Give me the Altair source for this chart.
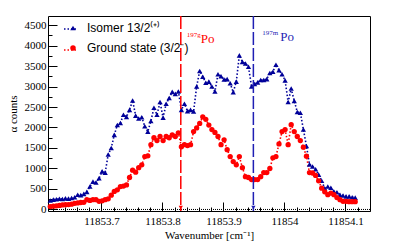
import altair as alt
import pandas as pd

# ---------------- data ----------------
wavenumber = [
    11853.616, 11853.621, 11853.626, 11853.631, 11853.636, 11853.641, 11853.646, 11853.651, 11853.656, 11853.661,
    11853.666, 11853.671, 11853.676, 11853.681, 11853.686, 11853.691, 11853.696, 11853.701, 11853.706, 11853.711,
    11853.716, 11853.721, 11853.726, 11853.731, 11853.736, 11853.741, 11853.746, 11853.751, 11853.756, 11853.761,
    11853.766, 11853.771, 11853.776, 11853.781, 11853.786, 11853.791, 11853.796, 11853.801, 11853.806, 11853.811,
    11853.816, 11853.821, 11853.826, 11853.831, 11853.836, 11853.841, 11853.846, 11853.851, 11853.856, 11853.861,
    11853.866, 11853.871, 11853.876, 11853.881, 11853.886, 11853.891, 11853.896, 11853.901, 11853.906, 11853.911,
    11853.916, 11853.921, 11853.926, 11853.931, 11853.936, 11853.941, 11853.946, 11853.951, 11853.956, 11853.961,
    11853.966, 11853.971, 11853.976, 11853.981, 11853.986, 11853.991, 11853.996, 11854.001, 11854.006, 11854.011,
    11854.016, 11854.021, 11854.026, 11854.031, 11854.036, 11854.041, 11854.046, 11854.051, 11854.056, 11854.061,
    11854.066, 11854.071, 11854.076, 11854.081, 11854.086, 11854.091, 11854.096, 11854.101, 11854.106, 11854.111,
    11854.116,
]
isomer_counts = [
    220, 240, 250, 260, 255, 270, 265, 280, 300, 360,
    350, 380, 430, 560, 680, 660, 760, 930, 900, 1340,
    1500, 1820, 2060, 2110, 2310, 2260, 2430, 2660, 2290, 2220,
    2250, 2030, 1900, 2160, 2480, 2310, 2620, 2240, 2580, 2720,
    2870, 2820, 2880, 2430, 2580, 2400, 2430, 2390, 3000, 3380,
    3240, 3090, 3120, 3000, 2880, 3300, 3250, 3170, 3180, 3080,
    2860, 3120, 3760, 3600, 3560, 3480, 3000, 3060, 3100, 3160,
    3160, 3180, 3330, 3360, 3530, 3400, 3300, 3150, 2620, 2950,
    2650, 2380, 2360, 1950, 1550, 1100, 1050, 980, 850, 700,
    520, 560, 530, 440, 420, 360, 340, 320, 320, 300,
    290,
]
ground_counts = [
    70, 80, 90, 100, 110, 115, 120, 130, 150, 160,
    170, 175, 240, 220, 240, 240, 200, 210, 240, 260,
    350, 440, 480, 560, 570, 600, 780, 960, 910, 1020,
    1090, 1290, 1310, 1580, 1750, 1680, 1780, 1680, 1780, 1750,
    1820, 1780, 1870, 1530, 1580, 1560, 1580, 1900, 1990, 2100,
    2260, 2200, 2060, 1950, 1880, 1780, 1580, 1700, 1460, 1290,
    1170, 1090, 1290, 1020, 800, 780, 730, 730, 730, 800,
    900, 900, 1000, 1260, 1290, 1600, 1900, 1950, 1580, 2070,
    1900, 1780, 1680, 1520, 1300, 900, 890, 830, 700, 520,
    430, 360, 400, 360, 290, 240, 200, 200, 190, 190,
    190,
]
series_names = ["Isomer 13/2\u207d\u207a\u207e", "Ground state (3/2\u207b)"]
series_colors = ["#000099", "#ff0000"]
series_shapes = ["triangle-up", "circle"]

marker_positions = [11853.830, 11853.949]
marker_colors = ["#ff0000", "#1f1fb4"]
marker_sup = ["197g", "197m"]
marker_main = ["Po", "Po"]

x_ticks = [11853.7, 11853.8, 11853.9, 11854.0, 11854.1]
x_minor = [11853.62, 11853.64, 11853.66, 11853.68, 11853.70, 11853.72, 11853.74, 11853.76,
           11853.78, 11853.80, 11853.82, 11853.84, 11853.86, 11853.88, 11853.90, 11853.92,
           11853.94, 11853.96, 11853.98, 11854.00, 11854.02, 11854.04, 11854.06, 11854.08,
           11854.10, 11854.12, 11854.14]
y_ticks = [0, 500, 1000, 1500, 2000, 2500, 3000, 3500, 4000, 4500]
y_minor = [0, 250, 500, 750, 1000, 1250, 1500, 1750, 2000, 2250, 2500, 2750, 3000, 3250,
           3500, 3750, 4000, 4250, 4500]

X_DOM = [11853.6123, 11854.1402]
Y_DOM = [-37, 4720]
W, H = 322, 195

n = len(wavenumber)
df = pd.DataFrame({
    "wn": wavenumber + wavenumber,
    "counts": isomer_counts + ground_counts,
    "series": [series_names[0]] * n + [series_names[1]] * n,
})
df_mark = pd.DataFrame({
    "pos": marker_positions,
    "top": [Y_DOM[1]] * 2,
    "bottom": [Y_DOM[0]] * 2,
    "arrow": [45, 45],
    "label_y": [4050, 4100],
    "sup": marker_sup,
    "main": marker_main,
    "color": marker_colors,
})

xs = alt.Scale(domain=X_DOM, nice=False, zero=False)
ys = alt.Scale(domain=Y_DOM, nice=False, zero=False)
color_scale = alt.Scale(domain=series_names, range=series_colors)
shape_scale = alt.Scale(domain=series_names, range=series_shapes)

SERIF = "Liberation Serif"

ax_x_labels = alt.Axis(orient="bottom", values=x_ticks, format="~f", ticks=False, domain=False,
                       grid=False, labelPadding=4, labelFont=SERIF, labelFontSize=11,
                       labelColor="black", labelFlush=False, title="Wavenumber [cm\u207b\u00b9]",
                       titleFont=SERIF, titleFontSize=11, titleFontWeight="normal",
                       titleColor="black", titlePadding=3)
ax_y_labels = alt.Axis(orient="left", values=y_ticks, format="d", ticks=False, domain=False,
                       grid=False, labelPadding=2, labelFont=SERIF, labelFontSize=11,
                       labelColor="black", labelFlush=False, title="\u03b1 counts",
                       titleFont=SERIF, titleFontSize=11, titleFontWeight="normal",
                       titleColor="black", titlePadding=6)
ax_x_major = alt.Axis(orient="bottom", values=x_ticks, labels=False, domain=False, grid=False,
                      tickSize=9, offset=-9, tickColor="black", title=None)
ax_y_major = alt.Axis(orient="left", values=y_ticks, labels=False, domain=False, grid=False,
                      tickSize=9, offset=-9, tickColor="black", title=None)
ax_x_minor = alt.Axis(orient="bottom", values=x_minor, labels=False, domain=False, grid=False,
                      tickSize=4, offset=-4, tickColor="black", title=None)
ax_y_minor = alt.Axis(orient="left", values=y_minor, labels=False, domain=False, grid=False,
                      tickSize=4, offset=-4, tickColor="black", title=None)

line_legend = alt.Legend(orient="none", legendX=15, legendY=6, title=None, symbolType="stroke",
                         symbolSize=144, symbolStrokeWidth=1.6, symbolDash=[1.5, 2],
                         labelExpr="''", labelOpacity=0, rowPadding=8, padding=0, labelFontSize=12)
point_legend = alt.Legend(orient="none", legendX=19, legendY=6, title=None, symbolSize=30,
                          rowPadding=8, padding=0, labelOffset=8, labelFont="Liberation Sans",
                          labelFontSize=12, labelColor="black", symbolStrokeWidth=0)

lines = alt.Chart(df).mark_line(strokeDash=[1.5, 2], strokeWidth=1.6).encode(
    x=alt.X("wn:Q", scale=xs, axis=ax_x_labels),
    y=alt.Y("counts:Q", scale=ys, axis=ax_y_labels),
    color=alt.Color("series:N", scale=color_scale, legend=line_legend),
    detail="series:N",
)

points = alt.Chart(df).mark_point(filled=True, opacity=1, size=28).encode(
    x=alt.X("wn:Q", scale=xs, axis=ax_x_major),
    y=alt.Y("counts:Q", scale=ys, axis=ax_y_major),
    color=alt.Color("series:N", scale=color_scale, legend=point_legend),
    shape=alt.Shape("series:N", scale=shape_scale, legend=point_legend),
)

minor = alt.Chart(df).mark_point(opacity=0, size=1).encode(
    x=alt.X("wn:Q", scale=xs, axis=ax_x_minor),
    y=alt.Y("counts:Q", scale=ys, axis=ax_y_minor),
)

zero_line = alt.Chart(df_mark).mark_rule(color="black", strokeDash=[1, 1], strokeWidth=1).encode(
    y=alt.Y(datum=0, scale=ys, axis=None),
)

vlines = alt.Chart(df_mark).mark_rule(strokeDash=[13, 3], strokeWidth=1.5).encode(
    x=alt.X("pos:Q", scale=xs, axis=None),
    y=alt.Y("top:Q", scale=ys, axis=None),
    y2="bottom:Q",
    color=alt.Color("color:N", scale=None, legend=None),
)

arrows = alt.Chart(df_mark).mark_point(shape="triangle-down", filled=True, opacity=1, size=18).encode(
    x=alt.X("pos:Q", scale=xs, axis=None),
    y=alt.Y("arrow:Q", scale=ys, axis=None),
    color=alt.Color("color:N", scale=None, legend=None),
)

texts = []
sup_dx = [6, 9]
main_dx = [20, 27]
for i in range(len(marker_positions)):
    sub = df_mark.iloc[[i]]
    texts.append(alt.Chart(sub).mark_text(align="left", baseline="alphabetic", font=SERIF,
                                          fontSize=7, dx=sup_dx[i], dy=-6).encode(
        x=alt.X("pos:Q", scale=xs, axis=None),
        y=alt.Y("label_y:Q", scale=ys, axis=None),
        text="sup:N",
        color=alt.Color("color:N", scale=None, legend=None),
    ))
    texts.append(alt.Chart(sub).mark_text(align="left", baseline="alphabetic", font=SERIF,
                                          fontSize=13, dx=main_dx[i]).encode(
        x=alt.X("pos:Q", scale=xs, axis=None),
        y=alt.Y("label_y:Q", scale=ys, axis=None),
        text="main:N",
        color=alt.Color("color:N", scale=None, legend=None),
    ))

chart = alt.layer(lines, points, minor, zero_line, vlines, arrows, *texts).resolve_axis(
    x="independent", y="independent"
).resolve_legend(color="independent", shape="independent").properties(
    width=W, height=H,
    padding={"left": 40, "top": 8, "right": 37, "bottom": 30},
    autosize=alt.AutoSizeParams(type="none"),
    background="white",
).configure_view(stroke="black", strokeWidth=1)

chart.save("out.html", embed_options={"renderer": "svg", "actions": False})
